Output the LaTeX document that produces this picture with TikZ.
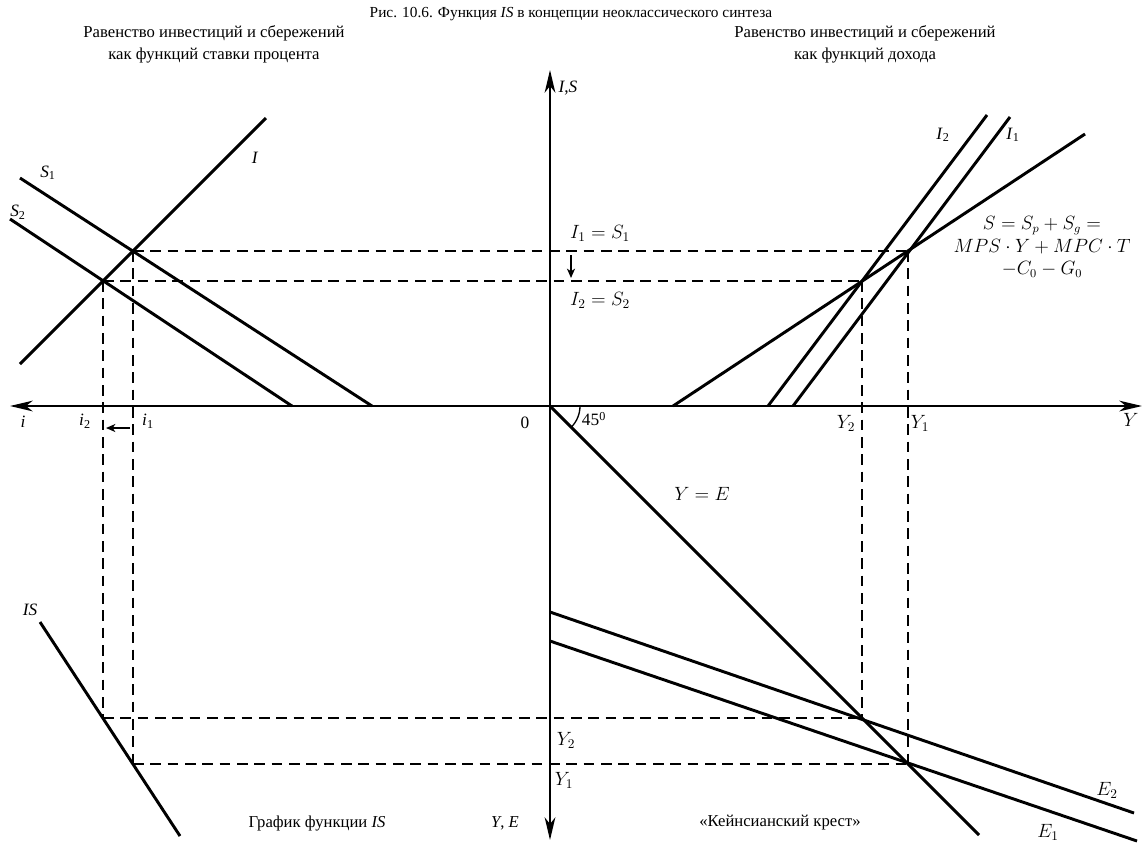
\documentclass[tikz,border=0pt]{standalone}
\usepackage{fontspec}
\setmainfont{Liberation Serif}
\usetikzlibrary{arrows.meta}
\begin{document}
\begin{tikzpicture}[x=0.75pt,y=-0.75pt,
  curve/.style={line width=2.2pt},
  axis/.style={line width=1.5pt},
  guide/.style={line width=1.1pt, dash pattern=on 8pt off 5pt},
  bigtip/.style={-{Stealth[length=17pt,width=8pt,inset=5pt]}},
  smalltip/.style={line width=1.2pt,-{Stealth[length=7pt,width=6pt,inset=2pt]}},
  lbl/.style={inner sep=0pt, font=\fontsize{13}{15}\selectfont},
  mlbl/.style={inner sep=0pt, font=\fontsize{14}{16}\selectfont},
  txt/.style={inner sep=0pt, font=\fontsize{12.5}{16.5}\selectfont, align=center},
  ]
\useasboundingbox (0,0) rectangle (1142,844);
% key points
\coordinate (O) at (550,406);
\coordinate (xL) at (10,406);
\coordinate (xR) at (1142,406);
\coordinate (yT) at (550,70);
\coordinate (yB) at (550,840);
\coordinate (A1) at (133,251);
\coordinate (A2) at (103,281);
\coordinate (B1) at (908,251);
\coordinate (B2) at (862,281);
\coordinate (C1) at (908,764);
\coordinate (C2) at (862,718);
\coordinate (D1) at (133,764);
\coordinate (D2) at (103,718);
% dashed guides
\draw[guide] (A1) -- (B1);
\draw[guide] (A2) -- (B2);
\draw[guide] (A1) -- (D1);
\draw[guide] (A2) -- (D2);
\draw[guide] (B1) -- (C1);
\draw[guide] (B2) -- (C2);
\draw[guide] (D2) -- (C2);
\draw[guide] (D1) -- (C1);
% axes
\draw[axis,bigtip] (O) -- (xR);
\draw[axis,bigtip] (O) -- (xL);
\draw[axis,bigtip] (O) -- (yT);
\draw[axis,bigtip] (O) -- (yB);
% top-left curves
\coordinate (Ia) at (20,364); \coordinate (Ib) at (266,118);
\coordinate (S1a) at (20,178); \coordinate (S1b) at (372,406);
\coordinate (S2a) at (10,219); \coordinate (S2b) at (292,406);
\draw[curve] (Ia) -- (Ib);
\draw[curve] (S1a) -- (S1b);
\draw[curve] (S2a) -- (S2b);
% top-right curves
\coordinate (Sa) at (673,406); \coordinate (Sb) at (1085,134);
\coordinate (I1a) at (793,406); \coordinate (I1b) at (1010,117);
\coordinate (I2a) at (768,406); \coordinate (I2b) at (987,115);
\draw[curve] (Sa) -- (Sb);
\draw[curve] (I1a) -- (I1b);
\draw[curve] (I2a) -- (I2b);
% bottom-right curves
\coordinate (YEb) at (979,835);
\coordinate (E2a) at (550,612); \coordinate (E2b) at (1134,813);
\coordinate (E1a) at (550,641); \coordinate (E1b) at (1137,841);
\draw[curve] (O) -- (YEb);
\draw[curve] (E2a) -- (E2b);
\draw[curve] (E1a) -- (E1b);
% bottom-left IS
\coordinate (ISa) at (40,622); \coordinate (ISb) at (180,836);
\draw[curve] (ISa) -- (ISb);
% 45 degree arc
\draw[line width=1pt] (580,406) arc[start angle=0,end angle=45,radius=30];
% small arrows
\coordinate (sa1) at (130,428); \coordinate (sa2) at (106,428);
\draw[smalltip] (sa1) -- (sa2);
\coordinate (sb1) at (571,255); \coordinate (sb2) at (571,278);
\draw[smalltip] (sb1) -- (sb2);
% titles
\node[txt,font=\fontsize{11.5}{14}\selectfont] (title) at (571,14) {Рис. 10.6. Функция \textit{IS} в концепции неоклассического синтеза};
\node[txt] (tl) at (214,44) {Равенство инвестиций и сбережений\\как функций ставки процента};
\node[txt] (tr) at (865,44) {Равенство инвестиций и сбережений\\как функций дохода};
\node[txt] (bl) at (317,823) {График функции \textit{IS}};
\node[txt] (br) at (780,823) {«Кейнсианский крест»};
\node[txt] (ye) at (505,823) {\textit{Y}, \textit{E}};
% axis labels
\node[lbl] (lIS) at (568,88) {\textit{I},\textit{S}};
\node[lbl] (li) at (23,422) {\textit{i}};
\node[lbl] (li2) at (85,421) {\textit{i}\textsubscript{2}};
\node[lbl] (li1) at (148,421) {\textit{i}\textsubscript{1}};
\node[lbl] (l0) at (525,423) {0};
\node[lbl] (l45) at (594,419) {45\textsuperscript{0}};
\node[mlbl] (lY2h) at (846,423) {$Y_2$};
\node[mlbl] (lY1h) at (920,423) {$Y_1$};
\node[mlbl] (lY) at (1131,420) {$Y$};
\node[mlbl] (lY2v) at (566,740) {$Y_2$};
\node[mlbl] (lY1v) at (564,780) {$Y_1$};
\node[mlbl] (lI1S1) at (600,233) {$I_1=S_1$};
\node[mlbl] (lI2S2) at (600,300) {$I_2=S_2$};
\node[mlbl] (lYE) at (702,494) {$Y=E$};
\node[mlbl] (lE2) at (1107,790) {$E_2$};
\node[mlbl] (lE1) at (1048,832) {$E_1$};
\node[lbl] (lI) at (255,158) {\textit{I}};
\node[lbl] (lS1) at (48,173) {\textit{S}\textsubscript{1}};
\node[lbl] (lS2) at (18,212) {\textit{S}\textsubscript{2}};
\node[lbl] (lI2) at (943,135) {\textit{I}\textsubscript{2}};
\node[lbl] (lI1) at (1013,135) {\textit{I}\textsubscript{1}};
\node[lbl] (lISc) at (30,610) {\textit{IS}};
\node[mlbl,align=center,font=\fontsize{13.5}{16}\selectfont] (form) at (1042,247) {$S=S_p+S_g=$\\[1pt]$MPS\cdot Y+MPC\cdot T$\\[1pt]$-C_0-G_0$};
\end{tikzpicture}
\end{document}
